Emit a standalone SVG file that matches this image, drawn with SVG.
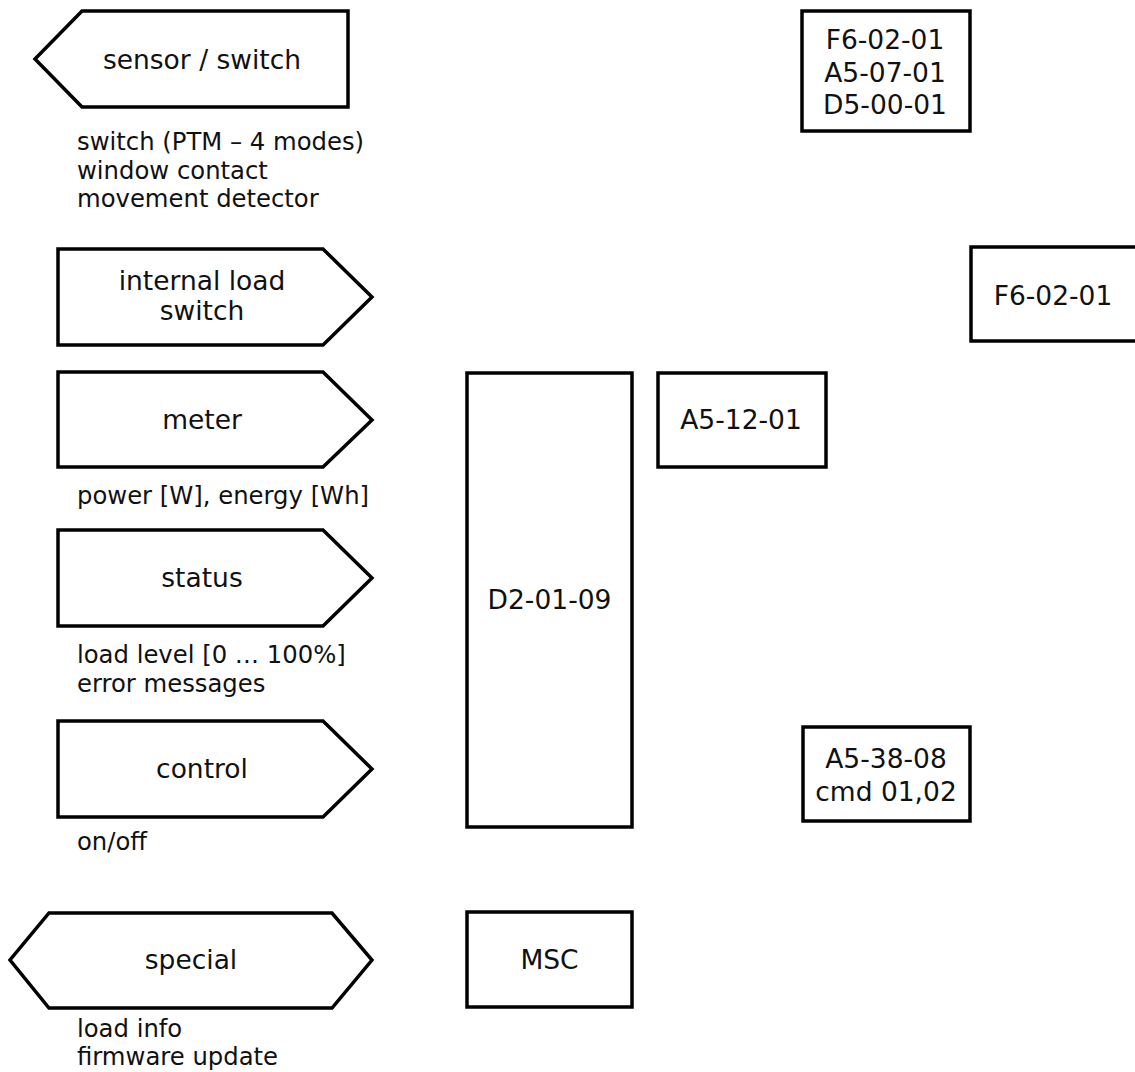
<svg xmlns="http://www.w3.org/2000/svg" width="1135" height="1072" viewBox="0 0 1135 1072">
<style>
.s{fill:#fff;stroke:#000;stroke-width:3.5;stroke-linejoin:miter}
.t{font-family:"DejaVu Sans","Verdana",sans-serif;font-size:26.5px;fill:#111;text-anchor:middle}
.d{font-family:"DejaVu Sans","Verdana",sans-serif;font-size:24.3px;fill:#111}
</style>
<rect width="1135" height="1072" fill="#fff"/>
<g id="connectors"/>
<g id="sensor-switch">
<polygon class="s" points="82,11 348,11 348,107 82,107 35,59"/>
<text class="t" x="202" y="69">sensor / switch</text>
<text class="d" x="77" y="150">switch (PTM – 4 modes)</text>
<text class="d" x="77" y="178.5">window contact</text>
<text class="d" x="77" y="207">movement detector</text>
</g>
<g id="internal-load-switch">
<polygon class="s" points="58,249 323,249 372,297 323,345 58,345"/>
<text class="t" x="202" y="290">internal load</text>
<text class="t" x="202" y="320">switch</text>
</g>
<g id="meter">
<polygon class="s" points="58,372 323,372 372,420 323,467 58,467"/>
<text class="t" x="202" y="429">meter</text>
<text class="d" x="77" y="504">power [W], energy [Wh]</text>
</g>
<g id="status">
<polygon class="s" points="58,530 323,530 372,578 323,626 58,626"/>
<text class="t" x="202" y="587">status</text>
<text class="d" x="77" y="663">load level [0 … 100%]</text>
<text class="d" x="77" y="691.5">error messages</text>
</g>
<g id="control">
<polygon class="s" points="58,721 323,721 372,769 323,817 58,817"/>
<text class="t" x="202" y="778">control</text>
<text class="d" x="77" y="850">on/off</text>
</g>
<g id="special">
<polygon class="s" points="49,913 332,913 372,960 332,1008 49,1008 10,960"/>
<text class="t" x="191" y="969">special</text>
<text class="d" x="77" y="1037">load info</text>
<text class="d" x="77" y="1065">firmware update</text>
</g>
<g id="d2-01-09">
<rect class="s" x="467" y="373" width="165" height="454"/>
<text class="t" x="549.5" y="609">D2-01-09</text>
</g>
<g id="msc">
<rect class="s" x="467" y="912" width="165" height="95"/>
<text class="t" x="549.5" y="969">MSC</text>
</g>
<g id="a5-12-01">
<rect class="s" x="658" y="373" width="168" height="94"/>
<text class="t" x="741" y="429">A5-12-01</text>
</g>
<g id="profiles-sensor">
<rect class="s" x="802" y="11" width="168" height="120"/>
<text class="t" x="885" y="49">F6-02-01</text>
<text class="t" x="885" y="82">A5-07-01</text>
<text class="t" x="885" y="114">D5-00-01</text>
</g>
<g id="f6-02-01">
<rect class="s" x="971" y="247" width="168" height="94"/>
<text class="t" x="1053" y="305">F6-02-01</text>
</g>
<g id="a5-38-08">
<rect class="s" x="803" y="727" width="167" height="94"/>
<text class="t" x="886" y="768">A5-38-08</text>
<text class="t" x="886" y="801">cmd 01,02</text>
</g>
</svg>
